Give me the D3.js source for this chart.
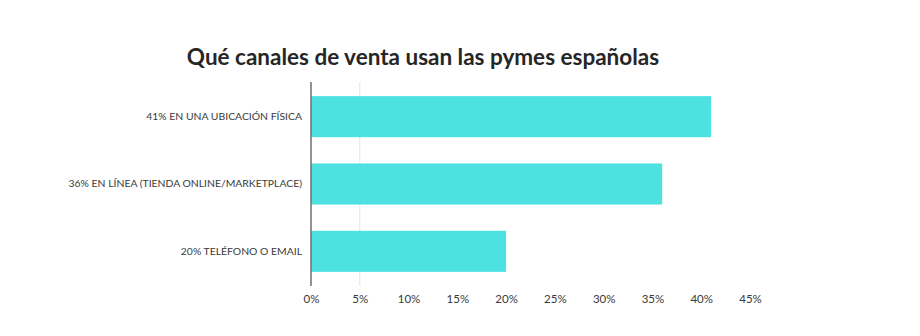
<!DOCTYPE html>
<html>
<head>
<meta charset="utf-8">
<script src="https://cdn.jsdelivr.net/npm/d3@7"></script>
<style>
  html, body { margin: 0; padding: 0; background: #fff; }
  svg { display: block; }
</style>
</head>
<body>
<svg id="chart" width="920" height="336"></svg>
<script>
// Sales channels used by Spanish SMEs (percent of companies)
const categories = [
  "41% EN UNA UBICACIÓN FÍSICA",
  "36% EN LÍNEA (TIENDA ONLINE/MARKETPLACE)",
  "20% TELÉFONO O EMAIL"
];
const values = [41, 36, 20];
const tickValues = [0, 5, 10, 15, 20, 25, 30, 35, 40, 45];
const gridValues = [5];
const title = "Qué canales de venta usan las pymes españolas";

const svg = d3.select("#chart");
const W = 920, H = 336;
const margin = { left: 311, right: 170, top: 82, bottom: 50 };

const x = d3.scaleLinear().domain([0, 45]).range([margin.left, W - margin.right]);
const y = d3.scaleBand()
  .domain(categories)
  .range([margin.top, H - margin.bottom])
  .paddingInner(0.39)
  .paddingOuter(0.21);

// Title
svg.append("text")
  .attr("x", 423).attr("y", 65)
  .attr("text-anchor", "middle")
  .attr("font-family", "Lato, 'Open Sans', sans-serif")
  .attr("font-weight", 700)
  .attr("font-size", 22.5)
  .attr("fill", "#262626")
  .text(title);

// Vertical gridline(s)
svg.append("g").selectAll("line").data(gridValues).join("line")
  .attr("x1", d => x(d)).attr("x2", d => x(d))
  .attr("y1", margin.top).attr("y2", H - margin.bottom)
  .attr("stroke", "#e4e4e4").attr("stroke-width", 1);

// Bars
svg.append("g").selectAll("rect").data(values).join("rect")
  .attr("x", x(0))
  .attr("y", (d, i) => y(categories[i]))
  .attr("width", d => x(d) - x(0))
  .attr("height", y.bandwidth())
  .attr("fill", "#4ee1e1");

// Category axis
const yAxis = svg.append("g")
  .attr("transform", `translate(${x(0)},0)`)
  .call(d3.axisLeft(y).tickSize(0).tickPadding(9));
yAxis.select(".domain").attr("stroke", "#6f6f6f").attr("stroke-width", 1.5)
  .attr("d", `M0,${margin.top}V${H - margin.bottom}`);
yAxis.selectAll("text")
  .attr("font-family", "Lato, 'Open Sans', sans-serif")
  .attr("font-size", 10.4)
  .attr("fill", "#3a3a3a");

// Value axis labels (no line)
const xAxis = svg.append("g")
  .attr("transform", `translate(0,${H - margin.bottom})`)
  .call(d3.axisBottom(x).tickValues(tickValues).tickSize(0).tickPadding(9)
    .tickFormat(d => d + "%"));
xAxis.select(".domain").remove();
xAxis.selectAll("text")
  .attr("font-family", "Lato, 'Open Sans', sans-serif")
  .attr("font-size", 11.5)
  .attr("fill", "#3a3a3a");
</script>
</body>
</html>
